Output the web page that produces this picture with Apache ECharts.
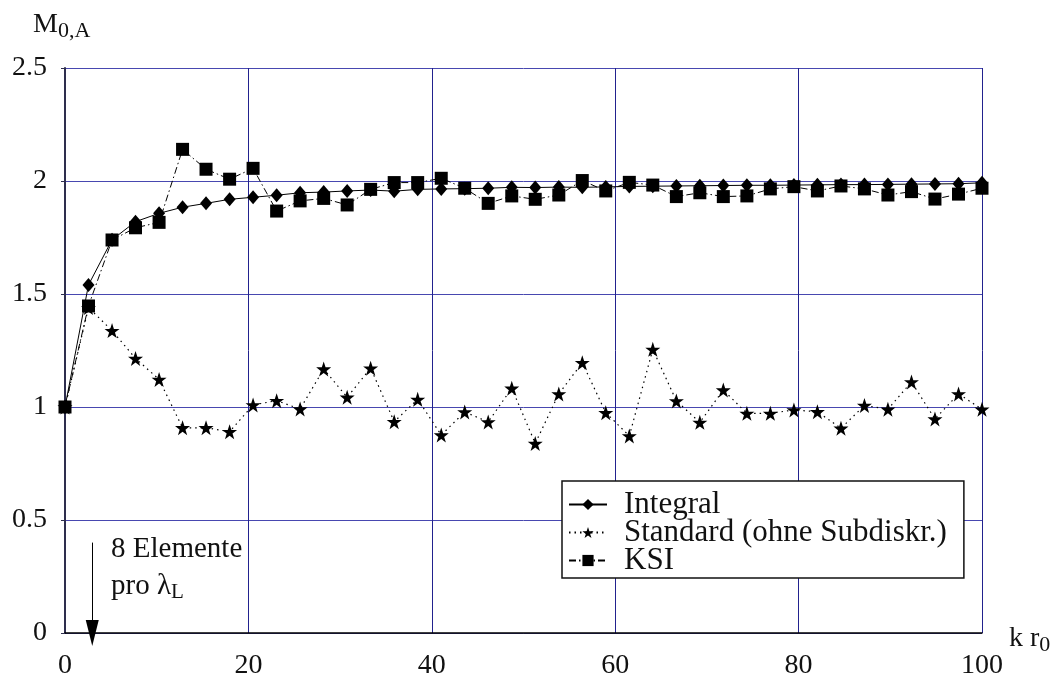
<!DOCTYPE html>
<html>
<head>
<meta charset="utf-8">
<script src="https://cdn.jsdelivr.net/npm/echarts@6/dist/echarts.min.js"></script>
<style>
  html, body { margin: 0; padding: 0; background: #fff; }
  #chart { width: 1064px; height: 683px; }
</style>
</head>
<body>
<div id="chart"></div>
<script>
// k r0 positions (40 samples)
const kr0 = [0, 2.56, 5.13, 7.69, 10.26, 12.82, 15.38, 17.95, 20.51, 23.08,
  25.64, 28.21, 30.77, 33.33, 35.9, 38.46, 41.03, 43.59, 46.15, 48.72,
  51.28, 53.85, 56.41, 58.97, 61.54, 64.1, 66.67, 69.23, 71.79, 74.36,
  76.92, 79.49, 82.05, 84.62, 87.18, 89.74, 92.31, 94.87, 97.44, 100];

const integral = [1.0, 1.54, 1.74, 1.82, 1.857, 1.884, 1.901, 1.919, 1.928, 1.937,
  1.948, 1.951, 1.956, 1.96, 1.955, 1.963, 1.965, 1.966, 1.968, 1.972,
  1.971, 1.973, 1.972, 1.974, 1.976, 1.977, 1.978, 1.979, 1.98, 1.981,
  1.981, 1.982, 1.983, 1.984, 1.984, 1.985, 1.986, 1.987, 1.988, 1.992];

const standard = [1.0, 1.44, 1.338, 1.215, 1.122, 0.908, 0.908, 0.891, 1.009, 1.028,
  0.991, 1.168, 1.043, 1.172, 0.935, 1.034, 0.876, 0.978, 0.934, 1.083,
  0.839, 1.058, 1.196, 0.975, 0.872, 1.255, 1.027, 0.932, 1.075, 0.972,
  0.972, 0.987, 0.979, 0.906, 1.007, 0.99, 1.111, 0.947, 1.058, 0.99];

const ksi = [1.0, 1.447, 1.739, 1.793, 1.817, 2.14, 2.052, 2.008, 2.056, 1.867,
  1.912, 1.923, 1.894, 1.963, 1.993, 1.993, 2.012, 1.968, 1.901, 1.934,
  1.919, 1.938, 2.002, 1.956, 1.994, 1.982, 1.931, 1.948, 1.931, 1.934,
  1.965, 1.975, 1.956, 1.978, 1.965, 1.938, 1.953, 1.92, 1.942, 1.968];

const xTicks = [0, 20, 40, 60, 80, 100];
const yTicks = [0, 0.5, 1, 1.5, 2, 2.5];

const serif = "Liberation Serif";

function pairs(ys) {
  return kr0.map(function (x, i) { return [x, ys[i]]; });
}

var myChart = echarts.init(document.getElementById("chart"));

var option = {
  backgroundColor: "#fff",
  animation: false,
  grid: { left: 65, right: 82, top: 68, bottom: 50 },
  xAxis: {
    type: "value",
    min: xTicks[0],
    max: xTicks[xTicks.length - 1],
    interval: 20,
    axisLine: { show: true, onZero: false, lineStyle: { color: "#000", width: 1.5 } },
    axisTick: { show: false },
    axisLabel: { fontFamily: serif, fontSize: 28, color: "#111", margin: 19 },
    splitLine: { show: true, lineStyle: { color: "#22228e", width: 1 } }
  },
  yAxis: {
    type: "value",
    min: yTicks[0],
    max: yTicks[yTicks.length - 1],
    interval: 0.5,
    axisLine: { show: true, lineStyle: { color: "#2e2e4e", width: 2 } },
    axisTick: { show: true, inside: false, length: 4, lineStyle: { color: "#2e2e4e" } },
    axisLabel: { fontFamily: serif, fontSize: 28, color: "#111", margin: 18 },
    splitLine: { show: true, lineStyle: { color: "#4848b0", width: 1 } }
  },
  legend: {
    orient: "vertical",
    left: 562,
    top: 481,
    backgroundColor: "#fff",
    borderColor: "#111",
    borderWidth: 1.5,
    borderRadius: 0,
    padding: [8, 17, 2, 6],
    itemGap: -3,
    itemWidth: 38,
    itemHeight: 14,
    textStyle: {
      fontFamily: serif, fontSize: 31, color: "#111",
      padding: [0, 0, 0, 12]
    },
    data: ["Integral", "Standard (ohne Subdiskr.)", "KSI"]
  },
  series: [
    {
      name: "Integral",
      type: "line",
      data: pairs(integral),
      symbol: "diamond",
      symbolSize: [12, 14],
      itemStyle: { color: "#000" },
      lineStyle: { color: "#000", width: 1 },
      z: 3,
      markLine: {
        silent: true,
        symbol: ["none", "triangle"],
        symbolSize: [13, 26],
        label: { show: false },
        lineStyle: { color: "#000", width: 1, type: "solid" },
        data: [[{ coord: [2.97, 0.4] }, { coord: [2.97, 0] }]]
      }
    },
    {
      name: "Standard (ohne Subdiskr.)",
      type: "line",
      data: pairs(standard),
      symbol: "path://M50,0 L61.8,35.1 L97.6,35.1 L68.5,56.7 L79.4,90.5 L50,69.8 L20.6,90.5 L31.5,56.7 L2.4,35.1 L38.2,35.1 Z",
      symbolSize: 15,
      itemStyle: { color: "#000" },
      lineStyle: { color: "#000", width: 1.2, type: [1.5, 4] },
      z: 4
    },
    {
      name: "KSI",
      type: "line",
      data: pairs(ksi),
      symbol: "rect",
      symbolSize: 13,
      itemStyle: { color: "#000" },
      lineStyle: { color: "#000", width: 1, type: [7, 3, 1.5, 3] },
      z: 5
    }
  ],
  graphic: [
    {
      type: "text",
      left: 33,
      top: 11,
      style: {
        text: "{m|M}{s|0,A}",
        rich: {
          m: { fontFamily: serif, fontSize: 28, fill: "#111" },
          s: { fontFamily: serif, fontSize: 22, fill: "#111", padding: [12, 0, 0, 0] }
        }
      }
    },
    {
      type: "text",
      left: 1009,
      top: 625,
      style: {
        text: "{m|k r}{s|0}",
        rich: {
          m: { fontFamily: serif, fontSize: 28, fill: "#111" },
          s: { fontFamily: serif, fontSize: 22, fill: "#111", padding: [12, 0, 0, 0] }
        }
      }
    },
    {
      type: "text",
      left: 111,
      top: 535,
      style: {
        text: "8 Elemente",
        fontFamily: serif,
        fontSize: 29,
        fill: "#111"
      }
    },
    {
      type: "text",
      left: 111,
      top: 572,
      style: {
        text: "{m|pro λ}{s|L}",
        rich: {
          m: { fontFamily: serif, fontSize: 29, fill: "#111" },
          s: { fontFamily: serif, fontSize: 21, fill: "#111", padding: [12, 0, 0, 0] }
        }
      }
    }
  ]
};

myChart.setOption(option);
</script>
</body>
</html>
